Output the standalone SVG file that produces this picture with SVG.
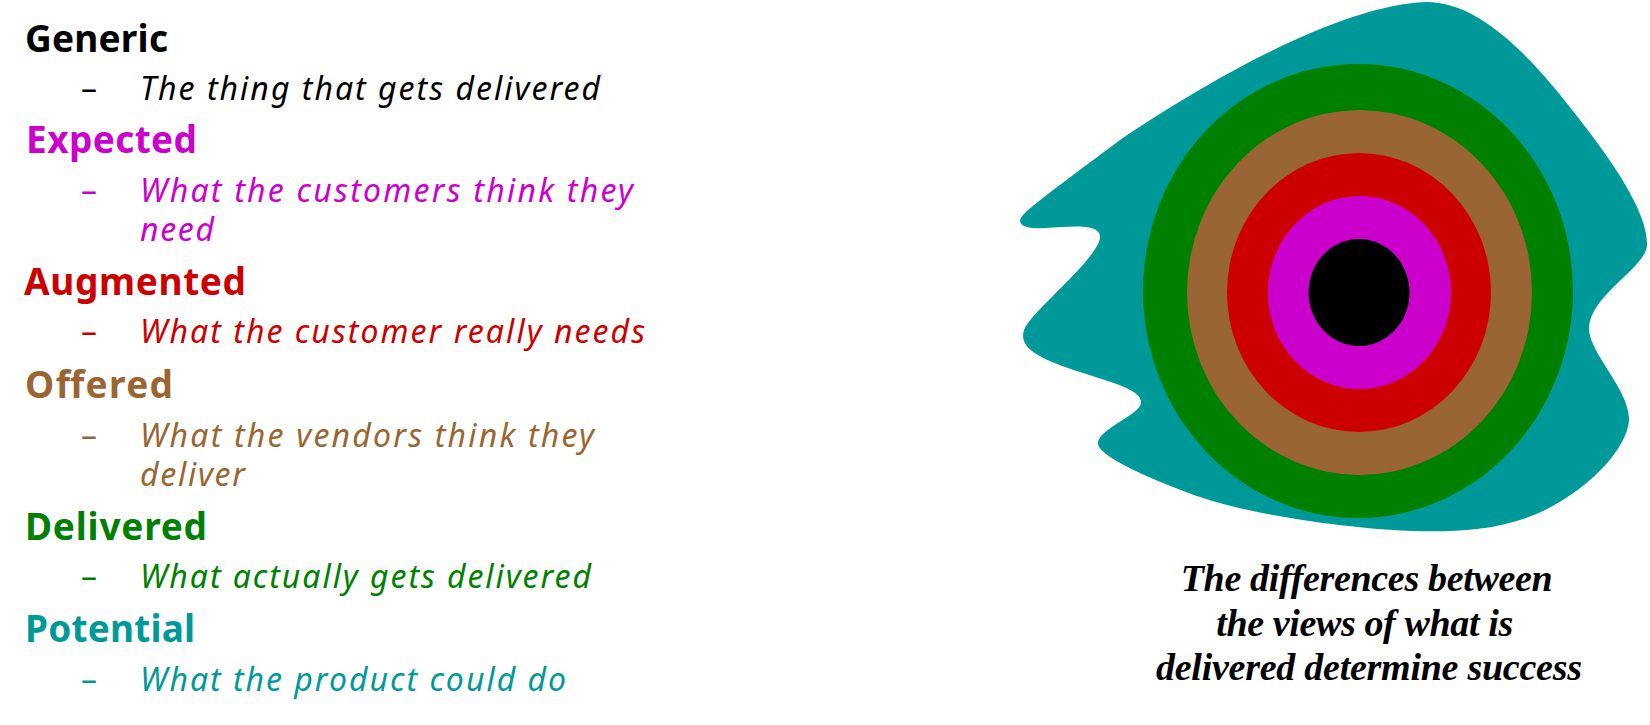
<svg xmlns="http://www.w3.org/2000/svg" width="1650" height="725" viewBox="0 0 1650 725">
<style>
.h{font-family:"Noto Sans","DejaVu Sans",sans-serif;font-weight:bold;font-size:37px}
.i{font-family:"Noto Sans","DejaVu Sans",sans-serif;font-style:italic;font-size:32px}
.d{font-family:"Noto Sans","DejaVu Sans",sans-serif;font-size:32px}
.c{font-family:"Liberation Serif","Times New Roman",serif;font-weight:bold;font-style:italic;font-size:38px;text-anchor:middle;fill:#000}
.k{fill:#000}.m{fill:#CC00CC}.r{fill:#CC0000}.b{fill:#996633}.g{fill:#008000}.t{fill:#009999}
</style>
<rect width="1650" height="725" fill="#fff"/>
<g id="list">
<g id="generic">
<text class="h k" x="25" y="51.7" textLength="143">Generic</text>
<text class="d k" x="81" y="100">–</text>
<text class="i k" x="140" y="100" textLength="460" lengthAdjust="spacing">The thing that gets delivered</text>
</g>
<g id="expected">
<text class="h m" x="26" y="153.3" textLength="171">Expected</text>
<text class="d m" x="81" y="201.7">–</text>
<text class="i m" x="140" y="201.7" textLength="493" lengthAdjust="spacing">What the customers think they</text>
<text class="i m" x="140" y="240.7" textLength="74" lengthAdjust="spacing">need</text>
</g>
<g id="augmented">
<text class="h r" x="24" y="295" textLength="222">Augmented</text>
<text class="d r" x="81" y="343.3">–</text>
<text class="i r" x="140" y="343.3" textLength="505" lengthAdjust="spacing">What the customer really needs</text>
</g>
<g id="offered">
<text class="h b" x="25" y="398.3" textLength="148">Offered</text>
<text class="d b" x="81" y="446.7">–</text>
<text class="i b" x="140" y="446.7" textLength="454" lengthAdjust="spacing">What the vendors think they</text>
<text class="i b" x="140" y="486" textLength="105" lengthAdjust="spacing">deliver</text>
</g>
<g id="delivered">
<text class="h g" x="25" y="540" textLength="182">Delivered</text>
<text class="d g" x="81" y="588.3">–</text>
<text class="i g" x="140" y="588.3" textLength="451" lengthAdjust="spacing">What actually gets delivered</text>
</g>
<g id="potential">
<text class="h t" x="25" y="641.7" textLength="170">Potential</text>
<text class="d t" x="81" y="690.7">–</text>
<text class="i t" x="140" y="690.7" textLength="426" lengthAdjust="spacing">What the product could do</text>
</g>
</g>
<g id="target">
<path id="potential-blob" fill="#009999" d="M1426,2 C1480,2 1530,55 1580,120 C1611,160 1648,212 1647,245 C1646,268 1590,295 1589,328 C1588,352 1630,390 1629,420 C1628,445 1595,485 1545,510 C1500,532 1450,532 1413,531 C1370,530 1260,518 1200,497 C1160,483 1100,458 1098,444 C1096,430 1140,415 1141,403 C1142,391 1120,385 1080,372 C1040,359 1018,348 1024,330 C1030,312 1102,256 1100,236 C1099,224 1075,226 1045,228 C1030,229 1012,226 1024,214 C1036,202 1080,170 1120,140 C1205,82 1340,5 1426,2 Z"/>
<ellipse id="delivered-ring" cx="1358" cy="291" rx="215" ry="227" fill="#008000"/>
<ellipse id="offered-ring" cx="1359.5" cy="292.5" rx="172.5" ry="182.5" fill="#996633"/>
<ellipse id="augmented-ring" cx="1359" cy="292.5" rx="132" ry="139.5" fill="#CC0000"/>
<ellipse id="expected-ring" cx="1359.5" cy="292.5" rx="91.6" ry="96.5" fill="#CC00CC"/>
<ellipse id="generic-core" cx="1359" cy="292.5" rx="50.5" ry="53.5" fill="#000"/>
</g>
<g id="caption">
<text class="c" x="1366.7" y="590.7" textLength="372">The differences between</text>
<text class="c" x="1364.7" y="635.7" textLength="297">the views of what is</text>
<text class="c" x="1369" y="680" textLength="426">delivered determine success</text>
</g>
</svg>
